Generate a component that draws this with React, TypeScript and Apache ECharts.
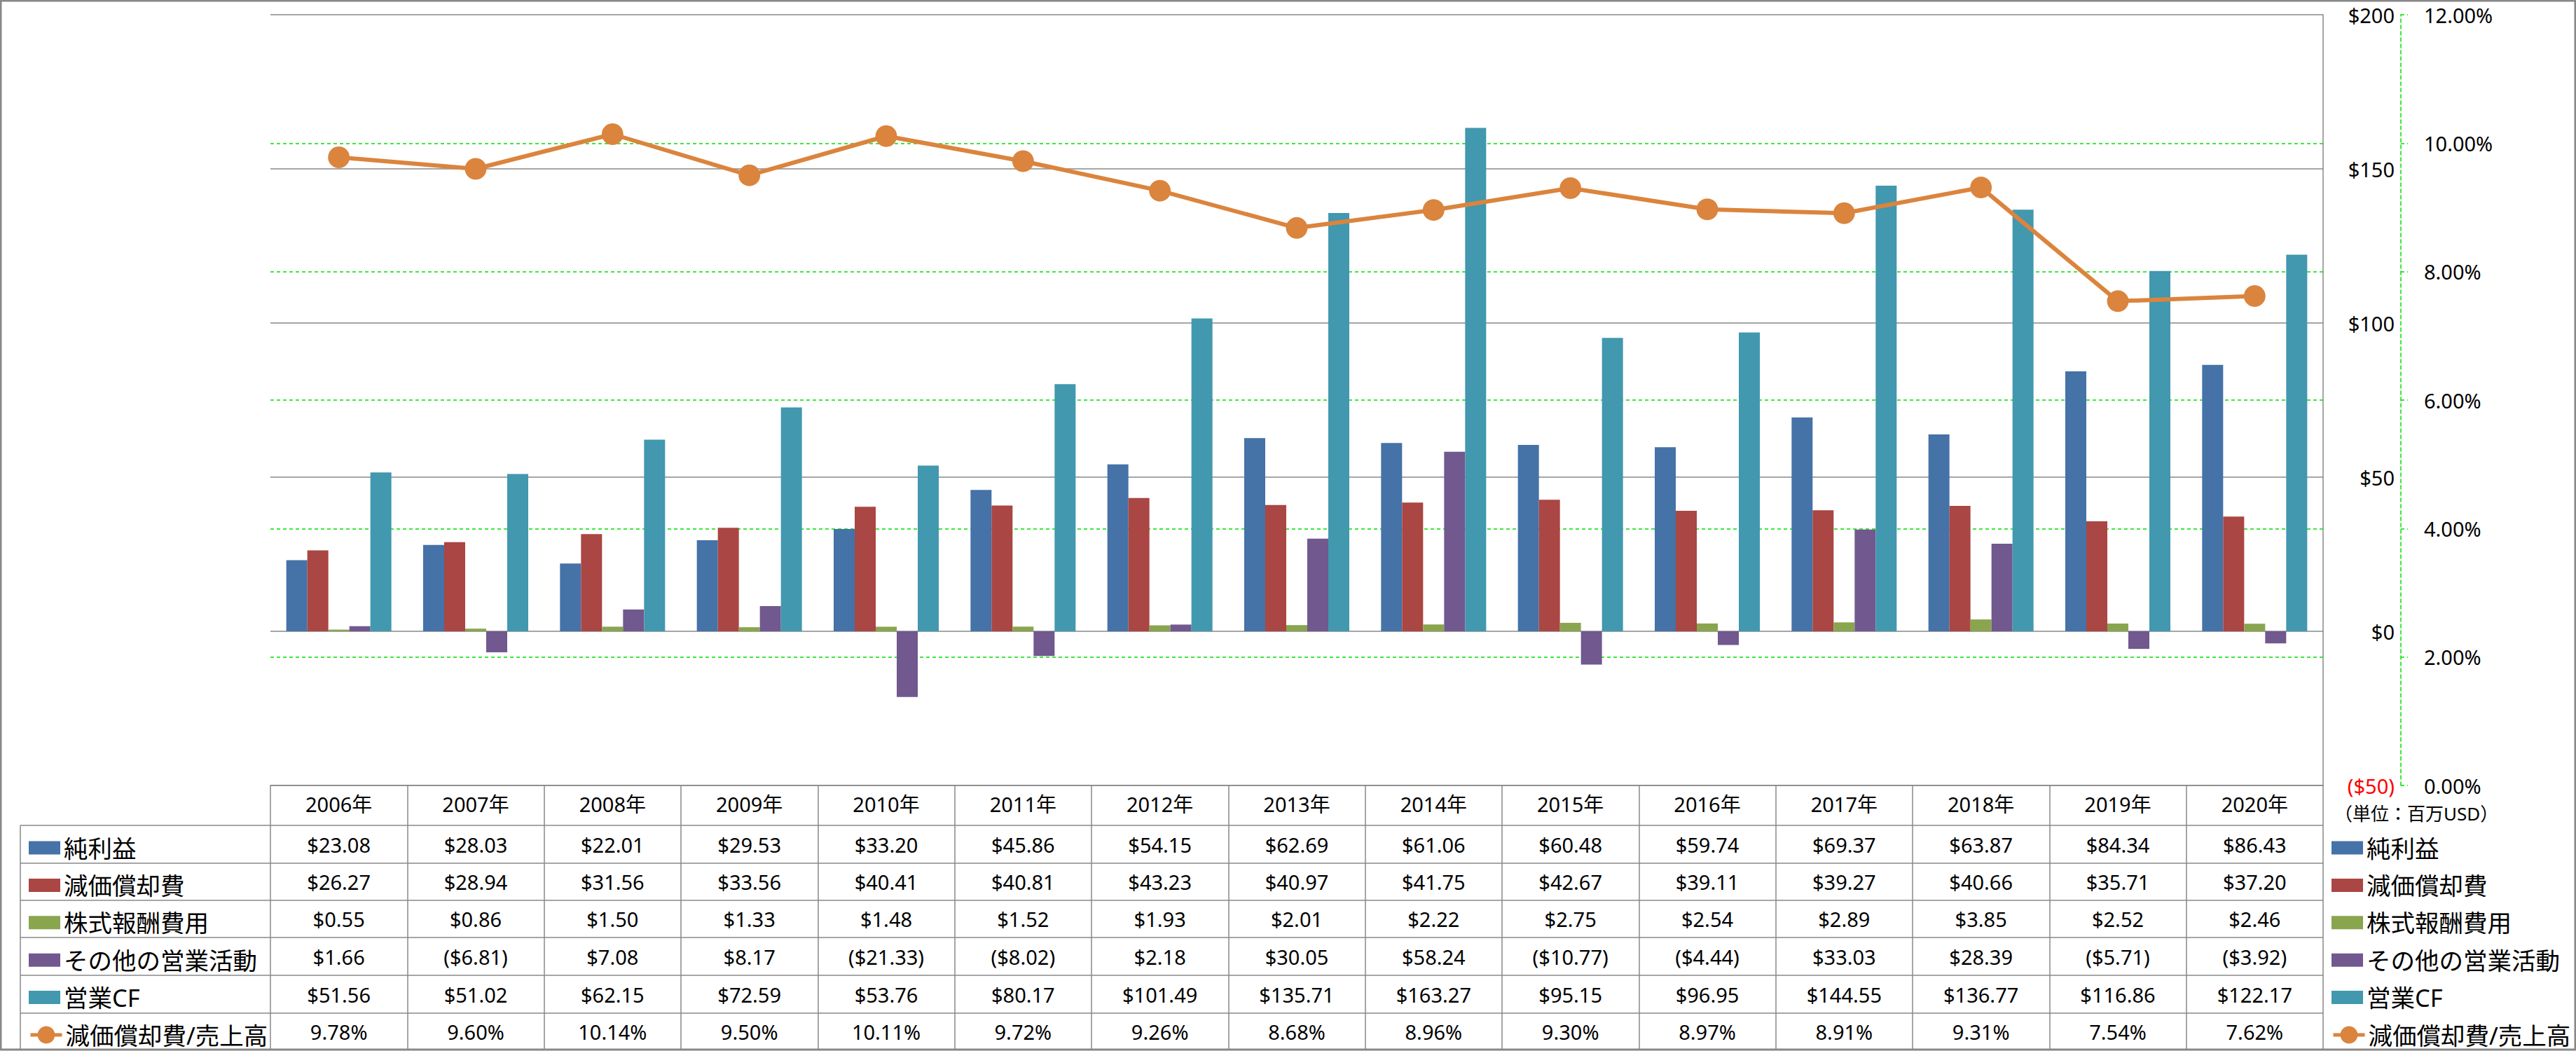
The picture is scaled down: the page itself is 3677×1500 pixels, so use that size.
import React, { useEffect, useRef } from "react";
import * as echarts from "echarts";

const years = ["2006", "2007", "2008", "2009", "2010", "2011", "2012", "2013", "2014", "2015", "2016", "2017", "2018", "2019", "2020"];
const netIncome = [23.08, 28.03, 22.01, 29.53, 33.2, 45.86, 54.15, 62.69, 61.06, 60.48, 59.74, 69.37, 63.87, 84.34, 86.43];
const depreciation = [26.27, 28.94, 31.56, 33.56, 40.41, 40.81, 43.23, 40.97, 41.75, 42.67, 39.11, 39.27, 40.66, 35.71, 37.2];
const stockComp = [0.55, 0.86, 1.5, 1.33, 1.48, 1.52, 1.93, 2.01, 2.22, 2.75, 2.54, 2.89, 3.85, 2.52, 2.46];
const otherOps = [1.66, -6.81, 7.08, 8.17, -21.33, -8.02, 2.18, 30.05, 58.24, -10.77, -4.44, 33.03, 28.39, -5.71, -3.92];
const operatingCF = [51.56, 51.02, 62.15, 72.59, 53.76, 80.17, 101.49, 135.71, 163.27, 95.15, 96.95, 144.55, 136.77, 116.86, 122.17];
const ratio = [9.78, 9.6, 10.14, 9.5, 10.11, 9.72, 9.26, 8.68, 8.96, 9.3, 8.97, 8.91, 9.31, 7.54, 7.62];

const seriesNames = ["純利益", "減価償却費", "株式報酬費用", "その他の営業活動", "営業CF", "減価償却費/売上高"];
const colors = ["#4572A7", "#AA4643", "#89A54E", "#71588F", "#4198AF", "#DB843D"];
const unitLabel = "（単位：百万USD）";

const FONT = "'Noto Sans', 'Noto Sans CJK JP', sans-serif";
const GRAY = "#888888";
const GREEN = "#00e000";

const fmtMoney = (v: number) => (v < 0 ? `($${(-v).toFixed(2)})` : `$${v.toFixed(2)}`);
const fmtPct = (v: number) => `${v.toFixed(2)}%`;

export default function App() {
  const ref = useRef<HTMLDivElement>(null);
  useEffect(() => {
    document.body.style.margin = "0";
    const chart = echarts.init(ref.current!, undefined, { renderer: "svg" });
    const gridLeft = 386;
    const gridTop = 21;
    const gridW = 2930;
    const gridH = 1100;
    const tableTop = gridTop + gridH;
    const rowLines = [1178, 1232, 1285, 1338, 1392, 1446, 1498];
    const rowCenters = rowLines.slice(0, 6).map((y, i) => (y + rowLines[i + 1]) / 2);
    const textLH = 38;
    const legendFont = { fontSize: 34.5, lineHeight: textLH, color: "#000", fontFamily: FONT };

    const barLegend = {
      orient: "vertical",
      top: rowCenters[0] - textLH / 2,
      itemWidth: 45,
      itemHeight: 19,
      itemGap: 53.4 - textLH,
      selectedMode: false,
      textStyle: legendFont,
      data: seriesNames.slice(0, 5).map((n) => ({ name: n, icon: "rect" })),
    };
    const lineLegend = {
      orient: "vertical",
      top: rowCenters[5] - textLH / 2,
      itemWidth: 45,
      itemHeight: 31,
      selectedMode: false,
      textStyle: legendFont,
      lineStyle: { width: 5 },
      data: [{ name: seriesNames[5] }],
    };

    const barSeries = [netIncome, depreciation, stockComp, otherOps, operatingCF].map((d, i) => ({
      name: seriesNames[i],
      type: "bar",
      data: d,
      barWidth: 30,
      barGap: "0%",
      itemStyle: { color: colors[i] },
      yAxisIndex: 0,
    }));

    chart.setOption({
      animation: false,
      textStyle: { fontFamily: FONT },
      grid: { left: gridLeft, top: gridTop, width: gridW, height: gridH, containLabel: false },
      legend: [
        { ...barLegend, left: 36 },
        { ...barLegend, left: 3323 },
        { ...lineLegend, left: 36 },
        { ...lineLegend, left: 3323 },
      ],
      xAxis: {
        type: "category",
        data: years.map((y) => y + "年"),
        axisLine: { onZero: false, lineStyle: { color: GRAY, width: 1.5 } },
        axisTick: { show: true, length: 1498 - tableTop, lineStyle: { color: GRAY, width: 1.5 } },
        axisLabel: { fontSize: 29, margin: 12, color: "#000", fontFamily: FONT },
      },
      yAxis: [
        {
          type: "value",
          min: -50,
          max: 200,
          interval: 50,
          position: "right",
          axisLine: { show: true, lineStyle: { color: GRAY, width: 1.5 } },
          axisTick: { show: false },
          axisLabel: {
            margin: 102,
            align: "right",
            fontSize: 29,
            color: "#000",
            fontFamily: FONT,
            formatter: (v: number) => (v < 0 ? `{neg|($${-v})}` : `$${v}`),
            rich: { neg: { color: "#ff0000", fontSize: 29, fontFamily: FONT } },
          },
          splitLine: { show: true, lineStyle: { color: GRAY, width: 1.5 } },
        },
        {
          type: "value",
          min: 0,
          max: 12,
          interval: 2,
          position: "right",
          offset: 111,
          axisLine: { show: true, lineStyle: { color: GREEN, width: 1.5, type: [5, 4] } },
          axisTick: { show: true, length: 10, lineStyle: { color: GREEN, width: 1.5, type: [5, 4] } },
          axisLabel: {
            margin: 33,
            fontSize: 29,
            color: "#000",
            fontFamily: FONT,
            formatter: (v: number) => v.toFixed(2) + "%",
          },
          splitLine: {
            show: true,
            showMinLine: false,
            showMaxLine: false,
            lineStyle: { color: GREEN, width: 1.5, type: [5, 4] },
          },
        },
      ],
      series: [
        ...barSeries,
        {
          name: seriesNames[5],
          type: "line",
          yAxisIndex: 1,
          data: ratio,
          symbol: "circle",
          symbolSize: 31,
          z: 10,
          lineStyle: { color: colors[5], width: 6 },
          itemStyle: { color: colors[5] },
        },
      ],
    });

    const tableRows = [
      netIncome.map(fmtMoney),
      depreciation.map(fmtMoney),
      stockComp.map(fmtMoney),
      otherOps.map(fmtMoney),
      operatingCF.map(fmtMoney),
      ratio.map(fmtPct),
    ];
    const graphics: any[] = [];
    graphics.push({
      type: "rect",
      shape: { x: 1, y: 1, width: 3675, height: 1497 },
      style: { fill: "none", stroke: GRAY, lineWidth: 3 },
      silent: true,
    });
    rowLines.slice(0, 6).forEach((y) => {
      graphics.push({
        type: "line",
        shape: { x1: 29, y1: y, x2: gridLeft + gridW, y2: y },
        style: { stroke: GRAY, lineWidth: 1.5 },
        silent: true,
      });
    });
    graphics.push({
      type: "line",
      shape: { x1: 29, y1: rowLines[0], x2: 29, y2: 1498 },
      style: { stroke: GRAY, lineWidth: 1.5 },
      silent: true,
    });
    tableRows.forEach((row, r) => {
      row.forEach((txt, c) => {
        const x = chart.convertToPixel({ xAxisIndex: 0 }, c) as number;
        graphics.push({
          type: "text",
          x,
          y: rowCenters[r],
          silent: true,
          style: {
            text: txt,
            fontSize: 29,
            fontFamily: FONT,
            fill: "#000",
            align: "center",
            verticalAlign: "middle",
          },
        });
      });
    });
    graphics.push({
      type: "text",
      x: 3449,
      y: 1161,
      silent: true,
      style: {
        text: unitLabel,
        fontSize: 26,
        fontFamily: FONT,
        fill: "#000",
        align: "center",
        verticalAlign: "middle",
      },
    });
    chart.setOption({ graphic: graphics });

    return () => chart.dispose();
  }, []);
  return <div ref={ref} style={{ position: "absolute", left: 0, top: 0, width: 3677, height: 1500 }} />;
}
